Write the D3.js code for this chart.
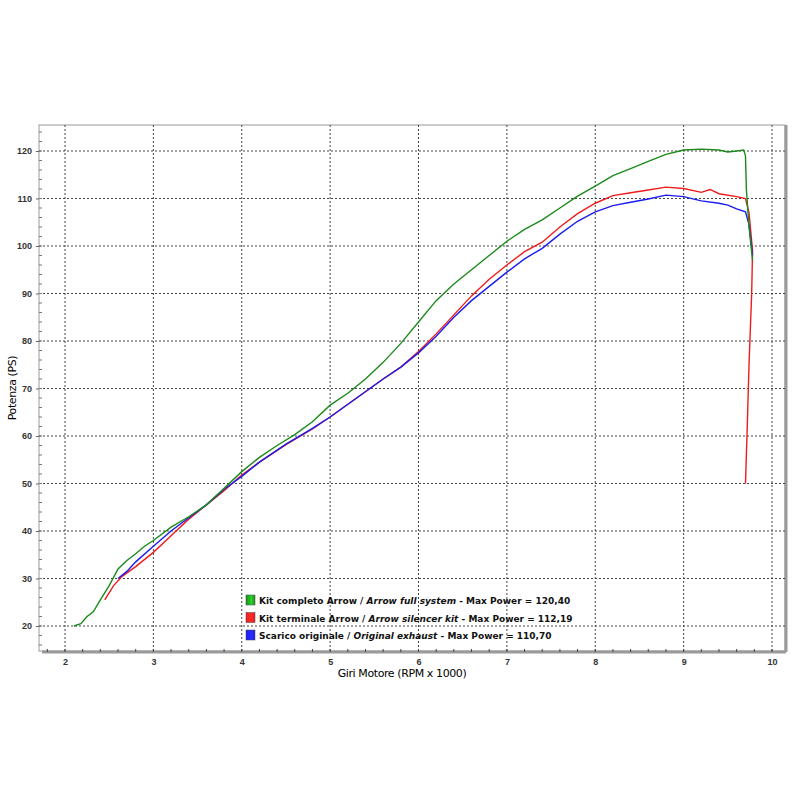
<!DOCTYPE html>
<html><head><meta charset="utf-8">
<script src="https://cdn.jsdelivr.net/npm/d3@7"></script>
<style>body{margin:0;background:#fff}</style>
</head><body><div id="chart"></div>
<script>
// Dyno curves: [rpm x1000, PS]
const seriesNames = ["Kit completo Arrow", "Kit terminale Arrow", "Scarico originale"];
const seriesItalic = ["Arrow full system", "Arrow silencer kit", "Original exhaust"];
const maxPower = ["120,40", "112,19", "110,70"];
const colors = ["#1a8a1a", "#ee1c1c", "#1c1cee"];

const green = [[2.1,20],[2.18,20.5],[2.25,22],[2.32,23],[2.4,25.5],[2.5,28.5],[2.6,32],[2.7,33.8],[2.8,35.2],[2.9,36.8],[3,38],[3.2,40.8],[3.4,43],[3.6,45.5],[3.8,49],[4,52.5],[4.2,55.5],[4.4,58],[4.6,60.3],[4.8,63],[5,66.5],[5.2,69],[5.4,72],[5.6,75.5],[5.8,79.5],[6,84],[6.2,88.5],[6.4,92],[6.6,95],[6.8,98],[7,101],[7.2,103.5],[7.4,105.5],[7.6,108],[7.8,110.5],[8,112.6],[8.2,114.8],[8.4,116.3],[8.6,117.8],[8.8,119.3],[9,120.2],[9.2,120.4],[9.4,120.2],[9.5,119.8],[9.6,120],[9.68,120.2],[9.7,119],[9.71,112],[9.74,104],[9.78,97]];
const red = [[2.45,25.5],[2.55,28.5],[2.65,30.5],[2.8,32.5],[3,35.5],[3.2,39],[3.4,42.5],[3.6,45.5],[3.8,48.5],[4,51.8],[4.2,54.5],[4.5,58.2],[4.8,61.5],[5,64],[5.3,68],[5.6,72],[5.8,74.5],[6,77.8],[6.2,81.5],[6.4,85.5],[6.6,89.5],[6.8,93],[7,96],[7.2,98.8],[7.4,100.8],[7.6,104],[7.8,106.8],[8,109],[8.2,110.6],[8.4,111.2],[8.6,111.8],[8.8,112.4],[9,112.1],[9.2,111.3],[9.3,111.9],[9.4,111],[9.6,110.4],[9.7,110],[9.74,107],[9.78,99],[9.77,90],[9.74,75],[9.72,62],[9.7,50]];
const blue = [[2.6,30],[2.7,31.5],[2.8,33.5],[3,36.8],[3.2,40],[3.4,42.8],[3.6,45.5],[3.8,48.8],[4,51.5],[4.2,54.5],[4.5,58.3],[4.8,61.6],[5,64],[5.3,68],[5.6,72],[5.8,74.5],[6,77.5],[6.2,81],[6.4,85],[6.6,88.5],[6.8,91.5],[7,94.5],[7.2,97.3],[7.4,99.5],[7.6,102.5],[7.8,105.2],[8,107.2],[8.2,108.5],[8.4,109.2],[8.6,109.9],[8.8,110.7],[9,110.4],[9.2,109.5],[9.4,109],[9.5,108.6],[9.6,107.8],[9.7,107.2],[9.74,104.5],[9.78,98]];
const series = [green, red, blue];

const xTicks = [2,3,4,5,6,7,8,9,10];
const yTicks = [20,30,40,50,60,70,80,90,100,110,120];

const W = 800, H = 800;
const frame = {l: 39, t: 125, r: 785, b: 651};
const x = d3.scaleLinear().domain([2, 10]).range([65, 772]);
const y = d3.scaleLinear().domain([20, 120]).range([626, 151]);

const svg = d3.select("#chart").append("svg").attr("width", W).attr("height", H)
  .style("font-family", "Verdana, 'DejaVu Sans', sans-serif");

// ── frame ────────────────────────────────────────────
svg.append("rect").attr("x", frame.l).attr("y", frame.t)
  .attr("width", frame.r - frame.l).attr("height", frame.b - frame.t)
  .attr("fill", "#fff").attr("stroke", "#999").attr("stroke-width", 1);
svg.append("line").attr("x1", frame.l + 3).attr("x2", frame.r + 1).attr("y1", frame.b + 1).attr("y2", frame.b + 1)
  .attr("stroke", "#9a9a9a").attr("stroke-width", 3);
svg.append("line").attr("x1", frame.r + 1).attr("x2", frame.r + 1).attr("y1", frame.t).attr("y2", frame.b + 1)
  .attr("stroke", "#9a9a9a").attr("stroke-width", 3);

// ── grid ─────────────────────────────────────────────
svg.append("g").selectAll("line").data(xTicks).join("line")
  .attr("x1", d => x(d)).attr("x2", d => x(d)).attr("y1", frame.t).attr("y2", frame.b)
  .attr("stroke", "#444").attr("stroke-width", 1).attr("stroke-dasharray", "2,2");
svg.append("g").selectAll("line").data(yTicks).join("line")
  .attr("x1", frame.l).attr("x2", frame.r).attr("y1", d => y(d)).attr("y2", d => y(d))
  .attr("stroke", "#444").attr("stroke-width", 1).attr("stroke-dasharray", "2,2");

// ── axes ─────────────────────────────────────────────
const yAxis = d3.axisLeft(y).tickValues(yTicks).tickSize(3).tickPadding(4);
const gy = svg.append("g").attr("transform", `translate(${frame.l},0)`).call(yAxis);
gy.select(".domain").remove();
gy.selectAll("text").attr("font-size", 9).attr("font-weight", "bold").attr("fill", "#333");
gy.selectAll("line").attr("stroke", "#666");
svg.append("g").selectAll("line").data(d3.range(16, 126, 2)).join("line")
  .attr("x1", frame.l).attr("x2", frame.l + 3).attr("y1", d => y(d)).attr("y2", d => y(d))
  .attr("stroke", "#777");

const xAxis = d3.axisBottom(x).tickValues(xTicks).tickSize(0).tickPadding(8);
const gx = svg.append("g").attr("transform", `translate(0,${frame.b})`).call(xAxis);
gx.select(".domain").remove();
gx.selectAll("text").attr("font-size", 9).attr("font-weight", "bold").attr("fill", "#333");
svg.append("g").selectAll("line").data(d3.range(1.8, 10.2, 0.2)).join("line")
  .attr("x1", d => x(d)).attr("x2", d => x(d)).attr("y1", frame.b - 2).attr("y2", frame.b + 1)
  .attr("stroke", "#444");

svg.append("text").attr("x", 402).attr("y", 677).attr("text-anchor", "middle")
  .attr("font-size", 11).attr("fill", "#000").attr("letter-spacing", -0.4).text("Giri Motore (RPM x 1000)");
svg.append("text").attr("transform", "translate(16,388) rotate(-90)").attr("text-anchor", "middle")
  .attr("font-size", 11).attr("fill", "#000").attr("letter-spacing", -0.4).text("Potenza (PS)");

// ── curves ───────────────────────────────────────────
const line = d3.line().x(d => x(d[0])).y(d => y(d[1]));
[1, 2, 0].forEach(i => {
  svg.append("path").datum(series[i]).attr("d", line)
    .attr("fill", "none").attr("stroke", colors[i]).attr("stroke-width", 1.4);
});

// ── legend ───────────────────────────────────────────
const defs = svg.append("defs");
colors.forEach((c, i) => {
  const g = defs.append("linearGradient").attr("id", "lg" + i);
  g.append("stop").attr("offset", "0%").attr("stop-color", c);
  g.append("stop").attr("offset", "60%").attr("stop-color", d3.color(c).brighter(1.2));
  g.append("stop").attr("offset", "100%").attr("stop-color", c);
});
const leg = svg.append("g").attr("transform", "translate(246,600)");
seriesNames.forEach((n, i) => {
  const row = leg.append("g").attr("transform", `translate(0,${i * 17.5})`);
  row.append("rect").attr("x", 0).attr("y", -5).attr("width", 9).attr("height", 10)
    .attr("fill", `url(#lg${i})`).attr("stroke", "#444").attr("stroke-width", 0.5);
  const t = row.append("text").attr("x", 13).attr("y", 4).attr("font-size", 9)
    .attr("font-weight", "bold").attr("fill", "#111");
  t.append("tspan").text(n + " / ");
  t.append("tspan").attr("font-style", "italic").text(seriesItalic[i]);
  t.append("tspan").text(" - Max Power = " + maxPower[i]);
});
</script></body></html>
